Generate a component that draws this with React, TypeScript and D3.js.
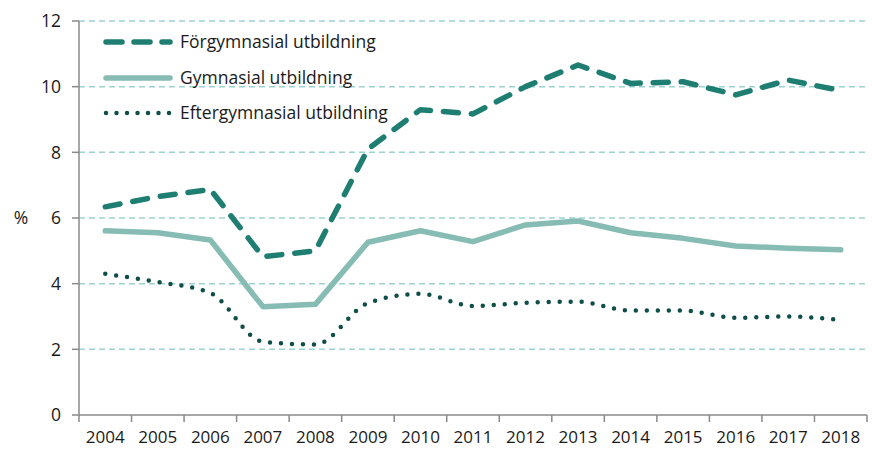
import { useEffect, useRef } from "react";
import * as d3 from "d3";

const years = ["2004", "2005", "2006", "2007", "2008", "2009", "2010", "2011", "2012", "2013", "2014", "2015", "2016", "2017", "2018"];
const forgymnasial = [6.34, 6.65, 6.87, 4.82, 5.0, 8.1, 9.3, 9.17, 10.0, 10.66, 10.1, 10.15, 9.75, 10.2, 9.88];
const gymnasial = [5.61, 5.55, 5.33, 3.3, 3.37, 5.26, 5.61, 5.28, 5.79, 5.91, 5.55, 5.38, 5.15, 5.08, 5.03];
const eftergymnasial = [4.3, 4.05, 3.72, 2.23, 2.15, 3.41, 3.69, 3.32, 3.42, 3.45, 3.18, 3.18, 2.96, 3.0, 2.89];
const yTicks = [0, 2, 4, 6, 8, 10, 12];
const seriesNames = ["Förgymnasial utbildning", "Gymnasial utbildning", "Eftergymnasial utbildning"];

const W = 872;
const H = 451;
const FONT = "'Open Sans', sans-serif";

export default function App() {
  const svgRef = useRef<SVGSVGElement>(null);

  useEffect(() => {
    if (!svgRef.current) return;
    const svg = d3.select(svgRef.current);
    svg.selectAll("*").remove();

    const left = 79, right = 867, top = 21, bottom = 415;
    const x = d3.scaleBand<string>().domain(years).range([left, right]);
    const y = d3.scaleLinear().domain([0, 12]).range([bottom, top]);
    const cx = (i: number) => x(years[i])! + x.bandwidth() / 2;

    // grid
    svg.append("g")
      .selectAll("line")
      .data(yTicks.filter((t) => t > 0))
      .join("line")
      .attr("x1", left).attr("x2", right)
      .attr("y1", (d) => y(d)).attr("y2", (d) => y(d))
      .attr("stroke", "#9ad3cf")
      .attr("stroke-width", 1.5)
      .attr("stroke-dasharray", "6 4");

    // axes
    const axisColor = "#8a8a8a";
    svg.append("line").attr("x1", left).attr("x2", left).attr("y1", top).attr("y2", bottom)
      .attr("stroke", axisColor).attr("stroke-width", 1.5);
    svg.append("line").attr("x1", left).attr("x2", right).attr("y1", bottom).attr("y2", bottom)
      .attr("stroke", axisColor).attr("stroke-width", 1.5);

    svg.append("g").selectAll("line").data(yTicks).join("line")
      .attr("x1", left - 7).attr("x2", left)
      .attr("y1", (d) => y(d)).attr("y2", (d) => y(d))
      .attr("stroke", axisColor).attr("stroke-width", 1.5);
    svg.append("g").selectAll("text").data(yTicks).join("text")
      .attr("x", 61).attr("y", (d) => y(d))
      .attr("dy", "0.36em").attr("text-anchor", "end")
      .attr("font-family", FONT).attr("font-size", 17.5).attr("fill", "#1a1a1a")
      .text((d) => d);
    svg.append("text").attr("x", 21).attr("y", y(6)).attr("dy", "0.36em")
      .attr("text-anchor", "middle")
      .attr("font-family", FONT).attr("font-size", 17.5).attr("fill", "#1a1a1a")
      .text("%");

    const xTickPos = years.map((yr) => x(yr)!).concat([right]);
    svg.append("g").selectAll("line").data(xTickPos).join("line")
      .attr("x1", (d) => d).attr("x2", (d) => d)
      .attr("y1", bottom).attr("y2", bottom + 7)
      .attr("stroke", axisColor).attr("stroke-width", 1.5);
    svg.append("g").selectAll("text").data(years).join("text")
      .attr("x", (_, i) => cx(i)).attr("y", 443)
      .attr("text-anchor", "middle")
      .attr("font-family", FONT).attr("font-size", 17).attr("fill", "#1a1a1a")
      .text((d) => d);

    // lines
    const lineStraight = d3.line<number>().x((_, i) => cx(i)).y((d) => y(d));
    const lineSmooth = d3.line<number>().x((_, i) => cx(i)).y((d) => y(d)).curve(d3.curveMonotoneX);

    const styles = [
      { data: forgymnasial, color: "#1f7e72", width: 5.5, dash: "15 13", cap: "round", gen: lineStraight },
      { data: gymnasial, color: "#86bcb3", width: 5.5, dash: null, cap: "round", gen: lineStraight },
      { data: eftergymnasial, color: "#0f4f47", width: 4.5, dash: "0 11", cap: "round", gen: lineSmooth },
    ];

    const g = svg.append("g");
    styles.slice().reverse().forEach((s) => {
      g.append("path")
        .attr("d", s.gen(s.data))
        .attr("fill", "none")
        .attr("stroke", s.color)
        .attr("stroke-width", s.width)
        .attr("stroke-linecap", s.cap)
        .attr("stroke-linejoin", "round")
        .attr("stroke-dasharray", s.dash);
    });

    // legend
    const legendY = [42, 78, 113];
    styles.forEach((s, i) => {
      svg.append("line")
        .attr("x1", 106).attr("x2", 170)
        .attr("y1", legendY[i]).attr("y2", legendY[i])
        .attr("stroke", s.color)
        .attr("stroke-width", s.width)
        .attr("stroke-linecap", s.cap)
        .attr("stroke-dasharray", s.dash ? (i === 0 ? "16 12" : "0 10.5") : null);
      svg.append("text")
        .attr("x", 180).attr("y", legendY[i]).attr("dy", "0.36em")
        .attr("font-family", FONT).attr("font-size", 17.5).attr("fill", "#1a1a1a")
        .text(seriesNames[i]);
    });
  }, []);

  return (
    <svg ref={svgRef} width={W} height={H} style={{ display: "block", position: "absolute", left: 0, top: 0, background: "#fff" }} />
  );
}
